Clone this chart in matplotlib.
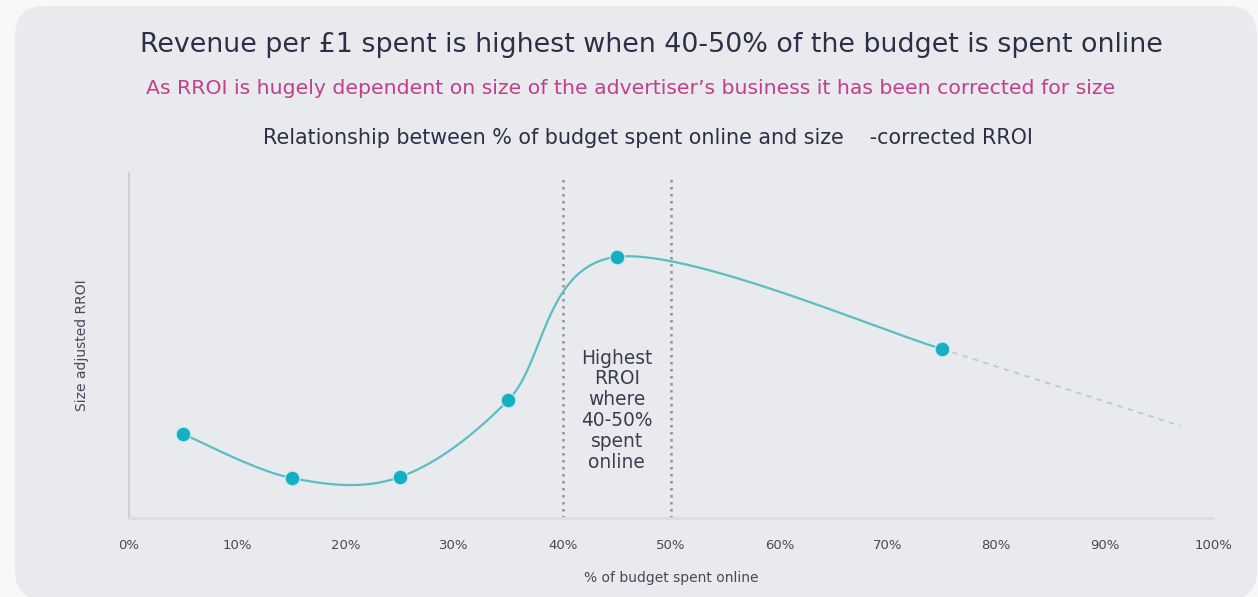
import matplotlib
matplotlib.use('Agg')
import matplotlib.pyplot as plt
from matplotlib.patches import FancyBboxPatch
import numpy as np

# Budget share spent online (%) and size adjusted RROI (relative units)
pct_online = [5, 15, 25, 35, 45, 75]
rroi = [24.3, 11.6, 11.9, 34.2, 75.7, 49.0]

# Projected continuation beyond the last observation
trend_x = [75, 97]
trend_y = [49.0, 26.7]

# Band with the highest RROI
band = [40, 50]

tick_vals = [0, 10, 20, 30, 40, 50, 60, 70, 80, 90, 100]
tick_labels = ['%d%%' % v for v in tick_vals]

title = 'Revenue per £1 spent is highest when 40-50% of the budget is spent online'
subtitle = 'As RROI is hugely dependent on size of the advertiser\u2019s business it has been corrected for size'
chart_title = 'Relationship between % of budget spent online and size    -corrected RROI'
note = 'Highest\nRROI\nwhere\n40-50%\nspent\nonline'

W, H = 1258, 597
plt.rcParams['font.family'] = ['DejaVu Sans']

dark = '#2e2f47'
teal = '#14afc2'
line_c = '#5cbcc4'
card_c = '#e9eaee'


def smooth(xs, ys, n=60):
    # Catmull-Rom style bezier through the points (like a spreadsheet "smoothed line")
    P = np.column_stack([xs, ys]).astype(float)
    T = np.zeros_like(P)
    T[1:-1] = (P[2:] - P[:-2]) / 2.0
    T[0] = (P[1] - P[0]) / 2.0
    T[-1] = (P[-1] - P[-2]) / 2.0
    out = []
    t = np.linspace(0, 1, n)[:, None]
    for i in range(len(P) - 1):
        c1 = P[i] + T[i] / 3.0
        c2 = P[i + 1] - T[i + 1] / 3.0
        seg = ((1 - t) ** 3) * P[i] + 3 * ((1 - t) ** 2) * t * c1 \
            + 3 * (1 - t) * t ** 2 * c2 + t ** 3 * P[i + 1]
        out.append(seg)
    out = np.vstack(out)
    return out[:, 0], out[:, 1]


fig = plt.figure(figsize=(W / 100, H / 100), dpi=100)
fig.patch.set_facecolor('#f8f8f9')

# rounded card behind everything
bg = fig.add_axes([0, 0, 1, 1])
bg.set_xlim(0, W)
bg.set_ylim(H, 0)
bg.axis('off')
card = FancyBboxPatch((15, 6), 1242, 594, boxstyle='round,pad=0,rounding_size=30',
                      facecolor=card_c, edgecolor='none')
bg.add_patch(card)

fig.text(651 / W, 1 - 45 / H, title, ha='center', va='center', fontsize=19.4,
         color=dark)
fig.text(631 / W, 1 - 88 / H, subtitle, ha='center', va='center', fontsize=14.7,
         color='#c23f8e')
fig.text(648 / W, 1 - 138 / H, chart_title, ha='center', va='center', fontsize=14.9,
         color=dark)

# main chart area: 0% at x=129px, 100% at x=1213px, baseline at y=518px
x0, x1 = 129, 1213
y0, y1 = 518, 173
ax = fig.add_axes([x0 / W, 1 - y0 / H, (x1 - x0) / W, (y0 - y1) / H])
ax.set_facecolor('none')
ax.set_xlim(0, 100)
ax.set_ylim(0, 100)

for s in ['top', 'right']:
    ax.spines[s].set_visible(False)
ax.spines['left'].set_color('#c9cacf')
ax.spines['bottom'].set_color('#dcdde1')
ax.spines['left'].set_linewidth(1.2)
ax.spines['bottom'].set_linewidth(2)
ax.set_yticks([])
ax.set_xticks(tick_vals)
ax.set_xticklabels(tick_labels, fontsize=9.5, color='#474859')
ax.tick_params(axis='x', length=0, pad=15)

for b in band:
    ax.plot([b, b], [0, 98.3], color='#8f909a', lw=1.8, ls=(0, (1, 1.8)), zorder=2)

sx, sy = smooth(pct_online, rroi)
ax.plot(sx, sy, color=line_c, lw=1.6, zorder=3, solid_capstyle='round')
ax.plot(trend_x, trend_y, color='#b9ccd2', lw=1.3, ls=(0, (3, 3)), zorder=3)
ax.plot(pct_online, rroi, 'o', ms=10.5, color=teal, mec='#c7e9ee', mew=0.8, zorder=4)

ax.text(45, 31.3, note, ha='center', va='center', fontsize=13.4, color='#3b3c50',
        linespacing=1.12)

ax.set_xlabel('% of budget spent online', fontsize=10, color='#474859', labelpad=14)
ax.set_ylabel('Size adjusted RROI', fontsize=10, color='#474859', labelpad=29)

plt.savefig('out.png', dpi=100, facecolor=fig.get_facecolor())
